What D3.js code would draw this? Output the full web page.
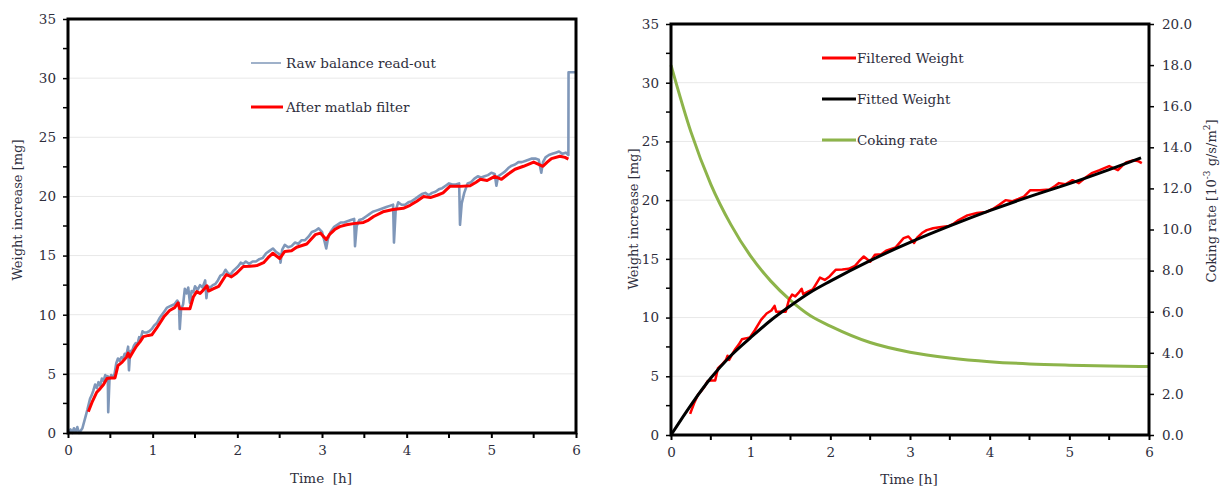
<!DOCTYPE html>
<html>
<head>
<meta charset="utf-8">
<script src="https://cdn.jsdelivr.net/npm/d3@7"></script>
<style>
  body { margin: 0; background: #fff; }
  text { font-family: "DejaVu Serif", serif; fill: #2e2e3c; }
</style>
</head>
<body>
<div id="chart"></div>
<script>
// raw balance read-out (left panel)
var rawTime = [0, 0.03, 0.05, 0.07, 0.09, 0.11, 0.13, 0.15, 0.17, 0.2, 0.23, 0.26, 0.28, 0.3, 0.32, 0.34, 0.36, 0.38, 0.4, 0.42,
  0.44, 0.46, 0.47, 0.475, 0.49, 0.51, 0.53, 0.55, 0.57, 0.59, 0.61, 0.63, 0.65, 0.67, 0.69, 0.71, 0.72, 0.735, 0.76, 0.78,
  0.8, 0.82, 0.84, 0.86, 0.88, 0.9, 0.93, 0.96, 0.99, 1.02, 1.05, 1.08, 1.11, 1.14, 1.17, 1.2, 1.23, 1.26, 1.29, 1.31,
  1.32, 1.335, 1.36, 1.38, 1.4, 1.42, 1.44, 1.46, 1.48, 1.5, 1.53, 1.56, 1.59, 1.62, 1.635, 1.65, 1.68, 1.71, 1.74, 1.77,
  1.8, 1.83, 1.86, 1.89, 1.92, 1.95, 1.98, 2.01, 2.04, 2.07, 2.1, 2.14, 2.18, 2.22, 2.26, 2.3, 2.34, 2.38, 2.42, 2.46,
  2.5, 2.51, 2.53, 2.56, 2.6, 2.64, 2.68, 2.72, 2.76, 2.8, 2.84, 2.88, 2.92, 2.96, 3.0, 3.03, 3.05, 3.07, 3.1, 3.14,
  3.18, 3.22, 3.26, 3.3, 3.34, 3.38, 3.39, 3.41, 3.44, 3.48, 3.52, 3.56, 3.6, 3.64, 3.68, 3.72, 3.76, 3.8, 3.84, 3.85,
  3.87, 3.9, 3.94, 3.98, 4.02, 4.06, 4.1, 4.14, 4.18, 4.22, 4.26, 4.3, 4.34, 4.38, 4.42, 4.46, 4.5, 4.54, 4.58, 4.62,
  4.63, 4.65, 4.68, 4.72, 4.76, 4.8, 4.84, 4.88, 4.92, 4.96, 5.0, 5.04, 5.06, 5.08, 5.12, 5.16, 5.2, 5.24, 5.28, 5.32,
  5.36, 5.4, 5.44, 5.48, 5.52, 5.56, 5.59, 5.61, 5.64, 5.68, 5.72, 5.76, 5.8, 5.84, 5.88, 5.91, 5.912, 6.0];
var rawWeight = [0, 0.3, 0, 0.4, 0.1, 0.5, 0, 0.2, 0.4, 1.2, 2.0, 2.9, 3.2, 3.6, 4.1, 3.8, 4.3, 4.0, 4.6, 4.4,
  4.9, 4.7, 4.8, 1.75, 4.5, 4.9, 4.7, 5.0, 5.9, 6.3, 6.1, 6.4, 6.3, 6.7, 6.6, 7.3, 5.3, 6.9, 7.0, 7.4,
  7.6, 7.5, 8.1, 8.0, 8.6, 8.5, 8.5, 8.6, 8.8, 9.1, 9.3, 9.7, 10.0, 10.3, 10.6, 10.7, 10.8, 10.9, 11.2, 11.0,
  8.8, 10.4, 10.9, 12.2, 11.8, 12.3, 11.0, 12.0, 11.9, 12.4, 12.1, 12.5, 12.3, 12.9, 11.4, 12.4, 12.3, 12.5, 12.6, 12.9,
  13.3, 13.4, 13.8, 13.5, 13.4, 13.7, 13.9, 14.1, 14.4, 14.3, 14.5, 14.3, 14.5, 14.5, 14.7, 14.8, 15.2, 15.4, 15.6, 15.3,
  15.1, 14.4, 15.5, 15.9, 15.7, 15.8, 16.1, 16.0, 16.3, 16.3, 16.6, 17.0, 17.1, 17.3, 17.0, 16.2, 15.6, 16.4, 17.0, 17.4,
  17.6, 17.8, 17.8, 17.9, 18.0, 18.1, 15.8, 17.5, 18.0, 18.1, 18.3, 18.5, 18.7, 18.8, 18.9, 19.0, 19.1, 19.2, 19.3, 16.1,
  18.8, 19.5, 19.3, 19.3, 19.5, 19.6, 19.8, 20.0, 20.2, 20.3, 20.1, 20.3, 20.4, 20.6, 20.7, 20.9, 21.1, 21.0, 21.0, 21.1,
  17.6, 19.4, 20.3, 21.1, 21.2, 21.5, 21.7, 21.6, 21.7, 21.8, 22.0, 21.9, 20.9, 21.7, 21.9, 22.1, 22.4, 22.6, 22.7, 22.9,
  22.9, 23.0, 23.1, 23.2, 23.2, 23.1, 22.0, 22.9, 23.3, 23.5, 23.6, 23.7, 23.8, 23.6, 23.7, 23.5, 30.5, 30.5];

// matlab filtered weight (both panels)
var filtTime = [0.24, 0.29, 0.34, 0.38, 0.42, 0.46, 0.5, 0.555, 0.59, 0.64, 0.69, 0.71, 0.73, 0.77, 0.81, 0.85, 0.89, 0.95, 0.99, 1.05,
  1.13, 1.2, 1.26, 1.3, 1.32, 1.44, 1.48, 1.52, 1.56, 1.6, 1.64, 1.66, 1.72, 1.78, 1.87, 1.93, 1.99, 2.07, 2.15, 2.23,
  2.31, 2.36, 2.42, 2.5, 2.56, 2.64, 2.7, 2.82, 2.92, 2.98, 3.05, 3.09, 3.15, 3.21, 3.29, 3.37, 3.49, 3.55, 3.61, 3.72,
  3.84, 3.96, 4.04, 4.12, 4.2, 4.28, 4.36, 4.43, 4.51, 4.63, 4.75, 4.82, 4.87, 4.95, 5.04, 5.12, 5.2, 5.28, 5.38, 5.5,
  5.61, 5.66, 5.71, 5.81, 5.87, 5.91];
var filtWeight = [1.8, 2.7, 3.45, 3.75, 4.1, 4.6, 4.65, 4.65, 5.7, 6.0, 6.4, 6.75, 6.4, 6.9, 7.35, 7.7, 8.15, 8.25, 8.3, 8.9,
  9.8, 10.35, 10.6, 11.0, 10.5, 10.5, 11.5, 11.95, 11.8, 12.1, 12.45, 12.0, 12.2, 12.4, 13.4, 13.2, 13.5, 14.08, 14.1, 14.15,
  14.4, 14.8, 15.2, 14.75, 15.35, 15.4, 15.7, 15.98, 16.77, 16.9, 16.35, 16.8, 17.2, 17.45, 17.6, 17.7, 17.8, 18.0, 18.3, 18.7,
  18.9, 19.0, 19.25, 19.6, 20.0, 19.9, 20.1, 20.3, 20.85, 20.85, 20.9, 21.2, 21.45, 21.35, 21.7, 21.45, 21.9, 22.3, 22.55, 22.9,
  22.55, 22.9, 23.2, 23.4, 23.3, 23.15];

// fitted weight and coking rate (right panel)
var fitTime = [0, 0.25, 0.5, 0.75, 1, 1.25, 1.5, 1.75, 2, 2.5, 3, 3.5, 4, 4.5, 5, 5.5, 5.9];
var fitWeight = [0, 2.55, 4.85, 6.75, 8.3, 9.75, 11.0, 12.15, 13.1, 14.85, 16.4, 17.8, 19.1, 20.3, 21.4, 22.6, 23.6];
var rateTime = [0, 0.25, 0.5, 0.75, 1, 1.25, 1.5, 1.75, 2, 2.5, 3, 3.5, 4, 4.5, 5, 5.5, 6];
var cokingRate = [18.0, 14.75, 12.2, 10.25, 8.7, 7.5, 6.55, 5.8, 5.3, 4.5, 4.03, 3.75, 3.57, 3.46, 3.4, 3.36, 3.33];

var weightTicks = [0, 5, 10, 15, 20, 25, 30, 35];
var timeTicks = [0, 1, 2, 3, 4, 5, 6];
var rateTicks = [0, 2, 4, 6, 8, 10, 12, 14, 16, 18, 20];

var fs = "13.5px";

var svg = d3.select("#chart").append("svg")
    .attr("width", 1223)
    .attr("height", 486);

function zip(a, b) {
    return a.map(function(d, i) { return [d, b[i]]; });
}

function drawPanel(left, right, top, bottom) {
    var x = d3.scaleLinear().domain([0, 6]).range([left, right]);
    var y = d3.scaleLinear().domain([0, 35]).range([bottom, top]);

    // gridlines
    svg.append("g").selectAll("line")
        .data(weightTicks.filter(d => d > 0 && d < 35))
        .enter().append("line")
        .attr("x1", left).attr("x2", right)
        .attr("y1", d => y(d)).attr("y2", d => y(d))
        .attr("stroke", "#e8e8e8")
        .attr("stroke-width", 1);

    // left axis
    var yAxis = d3.axisLeft(y).tickValues(weightTicks).tickSize(5).tickPadding(7)
        .tickFormat(d3.format("d"));
    var gy = svg.append("g").attr("transform", `translate(${left},0)`).call(yAxis);
    gy.select(".domain").remove();
    gy.selectAll("line").attr("stroke", "#000").attr("stroke-width", 1.5);
    gy.selectAll("text").style("font-size", fs).style("fill", "#2e2e3c");
    svg.append("g").selectAll("line")
        .data(d3.range(2.5, 35, 5))
        .enter().append("line")
        .attr("x1", left - 5).attr("x2", left)
        .attr("y1", d => y(d)).attr("y2", d => y(d))
        .attr("stroke", "#000").attr("stroke-width", 1.5);

    // bottom axis
    var xAxis = d3.axisBottom(x).tickValues(timeTicks).tickSize(5).tickPadding(7)
        .tickFormat(d3.format("d"));
    var gx = svg.append("g").attr("transform", `translate(0,${bottom})`).call(xAxis);
    gx.select(".domain").remove();
    gx.selectAll("line").attr("stroke", "#000").attr("stroke-width", 2);
    gx.selectAll("text").style("font-size", fs).style("fill", "#2e2e3c");
    svg.append("g").selectAll("line")
        .data(d3.range(0.5, 6, 1))
        .enter().append("line")
        .attr("x1", d => x(d)).attr("x2", d => x(d))
        .attr("y1", bottom).attr("y2", bottom + 5)
        .attr("stroke", "#000").attr("stroke-width", 2);

    return { x: x, y: y };
}

function frame(left, right, top, bottom) {
    svg.append("rect")
        .attr("x", left).attr("y", top)
        .attr("width", right - left).attr("height", bottom - top)
        .attr("fill", "none")
        .attr("stroke", "#000")
        .attr("stroke-width", 3);
}

// ---------- left panel ----------
var L = drawPanel(68, 576, 19, 433);

var line = d3.line().x(d => L.x(d[0])).y(d => L.y(d[1]));

svg.append("path")
    .datum(zip(rawTime, rawWeight))
    .attr("d", line)
    .attr("fill", "none")
    .attr("stroke", "#7f97b9")
    .attr("stroke-width", 2.6)
    .attr("stroke-linejoin", "round");

svg.append("path")
    .datum(zip(filtTime, filtWeight))
    .attr("d", line)
    .attr("fill", "none")
    .attr("stroke", "#ff0000")
    .attr("stroke-width", 3)
    .attr("stroke-linejoin", "round");

frame(68, 576, 19, 433);

// legend left
svg.append("line").attr("x1", 251).attr("x2", 281).attr("y1", 63).attr("y2", 63)
    .attr("stroke", "#7f97b9").attr("stroke-width", 1.5);
svg.append("text").attr("x", 286).attr("y", 68).style("font-size", fs).text("Raw balance read-out");
svg.append("line").attr("x1", 251).attr("x2", 283).attr("y1", 107).attr("y2", 107)
    .attr("stroke", "#ff0000").attr("stroke-width", 3);
svg.append("text").attr("x", 286).attr("y", 112).style("font-size", fs).text("After matlab filter");

svg.append("text")
    .attr("transform", "translate(22,210) rotate(-90)")
    .attr("text-anchor", "middle")
    .style("font-size", "13px")
    .text("Weight increase [mg]");

svg.append("text")
    .attr("x", 321).attr("y", 483)
    .attr("text-anchor", "middle")
    .style("font-size", fs)
    .attr("xml:space", "preserve")
    .text("Time  [h]");

// ---------- right panel ----------
var R = drawPanel(671, 1149, 24, 435);
var yRate = d3.scaleLinear().domain([0, 20]).range([435, 24]);

var rAxis = d3.axisRight(yRate).tickValues(rateTicks).tickSize(5).tickPadding(8)
    .tickFormat(d3.format(".1f"));
var gr = svg.append("g").attr("transform", "translate(1149,0)").call(rAxis);
gr.select(".domain").remove();
gr.selectAll("line").attr("stroke", "#000").attr("stroke-width", 1.5);
gr.selectAll("text").style("font-size", fs).style("fill", "#2e2e3c");

var lineR = d3.line().x(d => R.x(d[0])).y(d => R.y(d[1]));
var lineRate = d3.line().curve(d3.curveMonotoneX).x(d => R.x(d[0])).y(d => yRate(d[1]));

svg.append("path")
    .datum(zip(rateTime, cokingRate))
    .attr("d", lineRate)
    .attr("fill", "none")
    .attr("stroke", "#8db44a")
    .attr("stroke-width", 3);

svg.append("path")
    .datum(zip(filtTime, filtWeight))
    .attr("d", lineR)
    .attr("fill", "none")
    .attr("stroke", "#ff0000")
    .attr("stroke-width", 2.5)
    .attr("stroke-linejoin", "round");

svg.append("path")
    .datum(zip(fitTime, fitWeight))
    .attr("d", lineR.curve(d3.curveMonotoneX))
    .attr("fill", "none")
    .attr("stroke", "#000")
    .attr("stroke-width", 3);

frame(671, 1149, 24, 435);

// legend right
var legendR = [
    { label: "Filtered Weight", color: "#ff0000", y: 58 },
    { label: "Fitted Weight", color: "#000", y: 99 },
    { label: "Coking rate", color: "#8db44a", y: 140 }
];
legendR.forEach(function(d) {
    svg.append("line").attr("x1", 822).attr("x2", 856).attr("y1", d.y).attr("y2", d.y)
        .attr("stroke", d.color).attr("stroke-width", 3);
    svg.append("text").attr("x", 857).attr("y", d.y + 5).style("font-size", fs).text(d.label);
});

svg.append("text")
    .attr("transform", "translate(638,219) rotate(-90)")
    .attr("text-anchor", "middle")
    .style("font-size", "13px")
    .text("Weight increase [mg]");

svg.append("text")
    .attr("x", 909).attr("y", 484)
    .attr("text-anchor", "middle")
    .style("font-size", fs)
    .text("Time [h]");

var rt = svg.append("text")
    .attr("transform", "translate(1216,201) rotate(-90)")
    .attr("text-anchor", "middle")
    .style("font-size", "13px");
rt.append("tspan").text("Coking rate [10");
rt.append("tspan").attr("dy", -6).style("font-size", "9px").text("-3");
rt.append("tspan").attr("dy", 6).text(" g/s/m");
rt.append("tspan").attr("dy", -6).style("font-size", "9px").text("2");
rt.append("tspan").attr("dy", 6).text("]");
</script>
</body>
</html>
